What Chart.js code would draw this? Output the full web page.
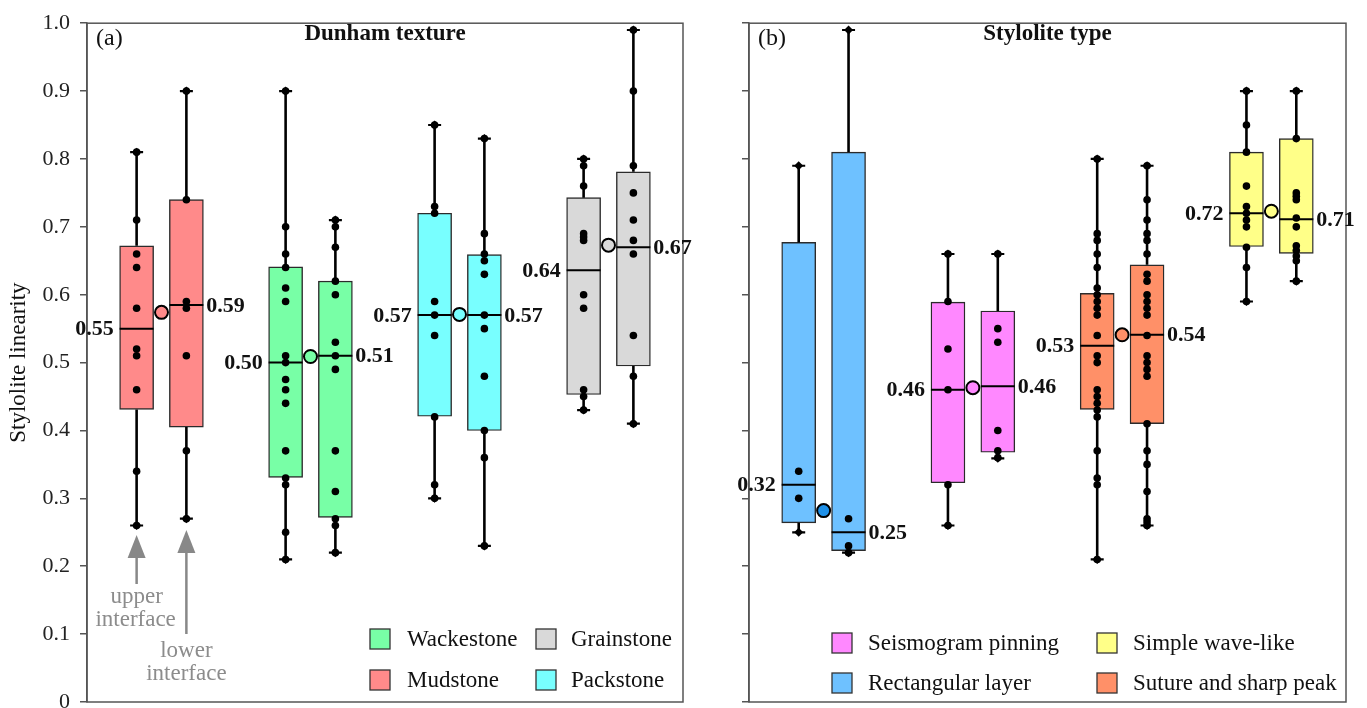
<!DOCTYPE html>
<html>
<head>
<meta charset="utf-8">
<script src="https://cdn.jsdelivr.net/npm/chart.js@4.4.1/dist/chart.umd.min.js"></script>
<style>
  html, body { margin: 0; padding: 0; background: #fff; overflow: hidden; }
  #chartA { position: absolute; left: 0; top: 0; }
  #chartB { position: absolute; left: 700px; top: 0; }
</style>
</head>
<body>
<canvas id="chartA" width="700" height="730"></canvas>
<canvas id="chartB" width="667" height="730"></canvas>
<script>
// panel (a) - Dunham texture
const dunhamTypes = ['Mudstone', 'Wackestone', 'Packstone', 'Grainstone'];
const dunhamColors = ['#ff8a8a', '#78ffa6', '#78ffff', '#d9d9d9'];
const dunhamMeans = [0.574, 0.509, 0.571, 0.673];

const dunhamUpperQ1 = [0.431, 0.331, 0.421, 0.453];
const dunhamUpperQ3 = [0.672, 0.641, 0.720, 0.743];
const dunhamUpperMed = [0.550, 0.500, 0.570, 0.636];
const dunhamUpperLo = [0.26, 0.21, 0.30, 0.43];
const dunhamUpperHi = [0.81, 0.90, 0.85, 0.80];
const dunhamUpperLabels = ['0.55', '0.50', '0.57', '0.64'];
const dunhamUpperPoints = [
  [0.81, 0.71, 0.66, 0.64, 0.58, 0.52, 0.51, 0.46, 0.34, 0.26],
  [0.90, 0.70, 0.66, 0.64, 0.61, 0.59, 0.51, 0.50, 0.475, 0.46, 0.44, 0.37, 0.33, 0.32, 0.25, 0.21],
  [0.85, 0.73, 0.72, 0.59, 0.57, 0.54, 0.42, 0.32, 0.30],
  [0.80, 0.79, 0.76, 0.69, 0.685, 0.68, 0.60, 0.58, 0.46, 0.45, 0.43]
];

const dunhamLowerQ1 = [0.405, 0.272, 0.400, 0.495];
const dunhamLowerQ3 = [0.740, 0.620, 0.659, 0.781];
const dunhamLowerMed = [0.585, 0.510, 0.570, 0.670];
const dunhamLowerLo = [0.27, 0.22, 0.23, 0.41];
const dunhamLowerHi = [0.90, 0.71, 0.83, 0.99];
const dunhamLowerLabels = ['0.59', '0.51', '0.57', '0.67'];
const dunhamLowerPoints = [
  [0.90, 0.74, 0.59, 0.58, 0.51, 0.37, 0.27],
  [0.71, 0.70, 0.67, 0.62, 0.60, 0.53, 0.51, 0.49, 0.37, 0.31, 0.27, 0.26, 0.22],
  [0.83, 0.69, 0.66, 0.65, 0.63, 0.57, 0.55, 0.48, 0.40, 0.36, 0.23],
  [0.99, 0.90, 0.79, 0.75, 0.71, 0.68, 0.66, 0.54, 0.48, 0.41]
];

// panel (b) - stylolite type
const styloTypes = ['Rectangular layer', 'Seismogram pinning', 'Suture and sharp peak', 'Simple wave-like'];
const styloColors = ['#6ec1ff', '#ff88ff', '#ff9068', '#ffff88'];
const styloMeanColors = ['#1e90e8', '#ff88ff', '#ff9068', '#ffff88'];
const styloMeans = [0.282, 0.463, 0.541, 0.723];

const styloUpperQ1 = [0.264, 0.323, 0.431, 0.671];
const styloUpperQ3 = [0.677, 0.589, 0.602, 0.810];
const styloUpperMed = [0.320, 0.460, 0.525, 0.720];
const styloUpperLo = [0.25, 0.26, 0.21, 0.59];
const styloUpperHi = [0.79, 0.66, 0.80, 0.90];
const styloUpperLabels = ['0.32', '0.46', '0.53', '0.72'];
const styloUpperPoints = [
  [0.34, 0.30],
  [0.66, 0.59, 0.52, 0.46, 0.32, 0.26],
  [0.80, 0.69, 0.68, 0.66, 0.64, 0.61, 0.60, 0.59, 0.58, 0.57, 0.54, 0.51, 0.50, 0.46, 0.45, 0.44, 0.43, 0.42, 0.37, 0.33, 0.32, 0.21],
  [0.90, 0.85, 0.81, 0.76, 0.73, 0.72, 0.71, 0.70, 0.67, 0.64, 0.59]
];

const styloLowerQ1 = [0.223, 0.368, 0.410, 0.661];
const styloLowerQ3 = [0.810, 0.576, 0.644, 0.830];
const styloLowerMed = [0.250, 0.465, 0.541, 0.711];
const styloLowerLo = [0.22, 0.359, 0.26, 0.62];
const styloLowerHi = [0.99, 0.66, 0.79, 0.90];
const styloLowerLabels = ['0.25', '0.46', '0.54', '0.71'];
const styloLowerPoints = [
  [0.27, 0.23, 0.22],
  [0.66, 0.55, 0.53, 0.40, 0.37, 0.36],
  [0.79, 0.74, 0.71, 0.69, 0.68, 0.66, 0.63, 0.62, 0.60, 0.59, 0.58, 0.57, 0.54, 0.51, 0.50, 0.49, 0.48, 0.41, 0.37, 0.35, 0.31, 0.27, 0.265, 0.26],
  [0.90, 0.83, 0.75, 0.745, 0.74, 0.713, 0.70, 0.672, 0.665, 0.657, 0.65, 0.62]
];

const yTicks = [0, 0.1, 0.2, 0.3, 0.4, 0.5, 0.6, 0.7, 0.8, 0.9, 1.0];

// layout stuff
const OFF = 0.167;   // upper/lower interface shift from group center
const HALF = 0.114;  // half box width in x units
const SERIF = "'Liberation Serif', 'Times New Roman', serif";

const panelA = {
  title: 'Dunham texture', letter: '(a)',
  types: dunhamTypes, colors: dunhamColors, meanColors: dunhamColors, means: dunhamMeans,
  upper: { q1: dunhamUpperQ1, q3: dunhamUpperQ3, med: dunhamUpperMed, lo: dunhamUpperLo, hi: dunhamUpperHi, labels: dunhamUpperLabels, points: dunhamUpperPoints },
  lower: { q1: dunhamLowerQ1, q3: dunhamLowerQ3, med: dunhamLowerMed, lo: dunhamLowerLo, hi: dunhamLowerHi, labels: dunhamLowerLabels, points: dunhamLowerPoints },
  legendRows: [[1, 3], [0, 2]],
  legendX: [370, 536], legendTextGap: [37, 35], legendY: [639, 680],
  arrows: true
};

const panelB = {
  title: 'Stylolite type', letter: '(b)',
  types: styloTypes, colors: styloColors, meanColors: styloMeanColors, means: styloMeans,
  upper: { q1: styloUpperQ1, q3: styloUpperQ3, med: styloUpperMed, lo: styloUpperLo, hi: styloUpperHi, labels: styloUpperLabels, points: styloUpperPoints },
  lower: { q1: styloLowerQ1, q3: styloLowerQ3, med: styloLowerMed, lo: styloLowerLo, hi: styloLowerHi, labels: styloLowerLabels, points: styloLowerPoints },
  legendRows: [[1, 3], [0, 2]],
  legendX: [132, 397], legendTextGap: [36, 36], legendY: [643, 683],
  arrows: false
};

function buildDatasets(panel) {
  const datasets = [];
  const sides = [{ s: panel.upper, off: -OFF }, { s: panel.lower, off: OFF }];

  sides.forEach(function (side) {
    const s = side.s;
    const xs = panel.types.map((t, i) => i + 1 + side.off);
    const whisk = [], meds = [], caps = [], dots = [];

    xs.forEach(function (x, i) {
      whisk.push({ x: x, y: s.lo[i] }, { x: x, y: s.q1[i] }, { x: x, y: null },
                 { x: x, y: s.q3[i] }, { x: x, y: s.hi[i] }, { x: x, y: null });
      meds.push({ x: x - HALF, y: s.med[i] }, { x: x + HALF, y: s.med[i] }, { x: x, y: null });
      caps.push({ x: x, y: s.lo[i] }, { x: x, y: s.hi[i] });
      s.points[i].forEach(v => dots.push({ x: x, y: v }));
    });

    // boxes
    datasets.push({
      type: 'bar',
      data: xs.map((x, i) => ({ x: x, y: [s.q1[i], s.q3[i]] })),
      backgroundColor: panel.colors,
      borderColor: '#2b2b2b',
      borderWidth: 1.4,
      borderSkipped: false,
      barThickness: 34,
      grouped: false,
      order: 6
    });
    // whiskers
    datasets.push({
      type: 'line', data: whisk, borderColor: '#000', borderWidth: 2.6,
      pointRadius: 0, spanGaps: false, fill: false, order: 5
    });
    // median lines
    datasets.push({
      type: 'line', data: meds, borderColor: '#000', borderWidth: 2,
      pointRadius: 0, spanGaps: false, fill: false, order: 4
    });
    // whisker caps
    datasets.push({
      type: 'scatter', data: caps, pointStyle: 'line', pointRadius: 6.5,
      borderColor: '#000', pointBorderColor: '#000', pointBorderWidth: 2.2, order: 3
    });
    datasets.push({
      type: 'scatter', data: caps, pointStyle: 'rectRot', pointRadius: 4.5,
      pointBackgroundColor: '#000', pointBorderWidth: 0, order: 3
    });
    // samples
    datasets.push({
      type: 'scatter', data: dots, pointRadius: 3.8,
      pointBackgroundColor: '#000', pointBorderWidth: 0, order: 2
    });
  });

  // mean circles
  datasets.push({
    type: 'scatter',
    data: panel.means.map((m, i) => ({ x: i + 1, y: m })),
    pointRadius: 6.5,
    pointBackgroundColor: panel.meanColors,
    pointBorderColor: '#000',
    pointBorderWidth: 2,
    order: 1
  });
  return datasets;
}

function arrow(ctx, x, tip, base, end) {
  ctx.fillStyle = '#888';
  ctx.strokeStyle = '#888';
  ctx.lineWidth = 2.5;
  ctx.beginPath();
  ctx.moveTo(x, base - 1);
  ctx.lineTo(x, end);
  ctx.stroke();
  ctx.beginPath();
  ctx.moveTo(x, tip);
  ctx.lineTo(x - 9, base);
  ctx.lineTo(x + 9, base);
  ctx.closePath();
  ctx.fill();
}

// frame, titles, median labels, legend
function decor(panel) {
  return {
    id: 'decor',
    afterDraw: function (chart) {
      const ctx = chart.ctx;
      const a = chart.chartArea;
      const xs = chart.scales.x;
      const ys = chart.scales.y;
      ctx.save();

      ctx.strokeStyle = '#555';
      ctx.lineWidth = 1.5;
      ctx.strokeRect(a.left, a.top, a.right - a.left, a.bottom - a.top);

      ctx.fillStyle = '#111';
      ctx.textBaseline = 'middle';
      ctx.font = 'bold 23px ' + SERIF;
      ctx.textAlign = 'center';
      ctx.fillText(panel.title, (a.left + a.right) / 2, 34);

      ctx.font = '24px ' + SERIF;
      ctx.textAlign = 'left';
      ctx.fillText(panel.letter, a.left + 9, 39);

      ctx.font = 'bold 22px ' + SERIF;
      panel.types.forEach(function (t, i) {
        ctx.textAlign = 'right';
        ctx.fillText(panel.upper.labels[i], xs.getPixelForValue(i + 1 - OFF - HALF) - 6, ys.getPixelForValue(panel.upper.med[i]) + 1);
        ctx.textAlign = 'left';
        ctx.fillText(panel.lower.labels[i], xs.getPixelForValue(i + 1 + OFF + HALF) + 3, ys.getPixelForValue(panel.lower.med[i]) + 1);
      });

      // legend
      ctx.font = '23px ' + SERIF;
      ctx.textAlign = 'left';
      panel.legendRows.forEach(function (row, r) {
        row.forEach(function (idx, c) {
          const x = panel.legendX[c];
          const y = panel.legendY[r];
          ctx.fillStyle = panel.colors[idx];
          ctx.fillRect(x, y - 10, 20, 20);
          ctx.strokeStyle = '#333';
          ctx.lineWidth = 1.3;
          ctx.strokeRect(x, y - 10, 20, 20);
          ctx.fillStyle = '#111';
          ctx.fillText(panel.types[idx], x + panel.legendTextGap[c], y + 1);
        });
      });

      if (panel.arrows) {
        const xu = xs.getPixelForValue(1 - OFF);
        const xl = xs.getPixelForValue(1 + OFF);
        arrow(ctx, xu, 535, 558, 584);
        arrow(ctx, xl, 530, 553, 634);
        ctx.fillStyle = '#8c8c8c';
        ctx.font = '23px ' + SERIF;
        ctx.textAlign = 'center';
        ctx.fillText('upper', xu, 597);
        ctx.fillText('interface', xu - 1, 620);
        ctx.fillText('lower', xl, 651);
        ctx.fillText('interface', xl, 674);
      }
      ctx.restore();
    }
  };
}

function makeChart(canvasId, panel, axisWidth, padRight, showLabels) {
  return new Chart(document.getElementById(canvasId), {
    type: 'scatter',
    data: { datasets: buildDatasets(panel) },
    options: {
      responsive: false,
      animation: false,
      events: [],
      layout: { padding: { top: 17, right: padRight, bottom: 28, left: 0 } },
      plugins: { legend: { display: false }, tooltip: { enabled: false } },
      scales: {
        x: { type: 'linear', min: 0.5, max: 4.5, offset: false, display: false },
        y: {
          type: 'linear',
          min: 0,
          max: 1,
          afterFit: function (scale) { scale.width = axisWidth; },
          afterBuildTicks: function (scale) { scale.ticks = yTicks.map(v => ({ value: v })); },
          ticks: {
            padding: 10,
            color: '#222',
            font: { family: SERIF, size: 22 },
            callback: function (v) {
              if (!showLabels) return '';
              return v === 0 ? '0' : v.toFixed(1);
            }
          },
          grid: { drawOnChartArea: false, drawTicks: true, tickLength: 7, color: '#555', lineWidth: 1.5 },
          border: { color: '#555', width: 1.5 },
          title: {
            display: showLabels,
            text: 'Stylolite linearity',
            color: '#111',
            font: { family: SERIF, size: 23 },
            padding: { top: 5, bottom: 0 }
          }
        }
      }
    },
    plugins: [decor(panel)]
  });
}

makeChart('chartA', panelA, 87, 17, true);
makeChart('chartB', panelB, 49, 21, false);
</script>
</body>
</html>
